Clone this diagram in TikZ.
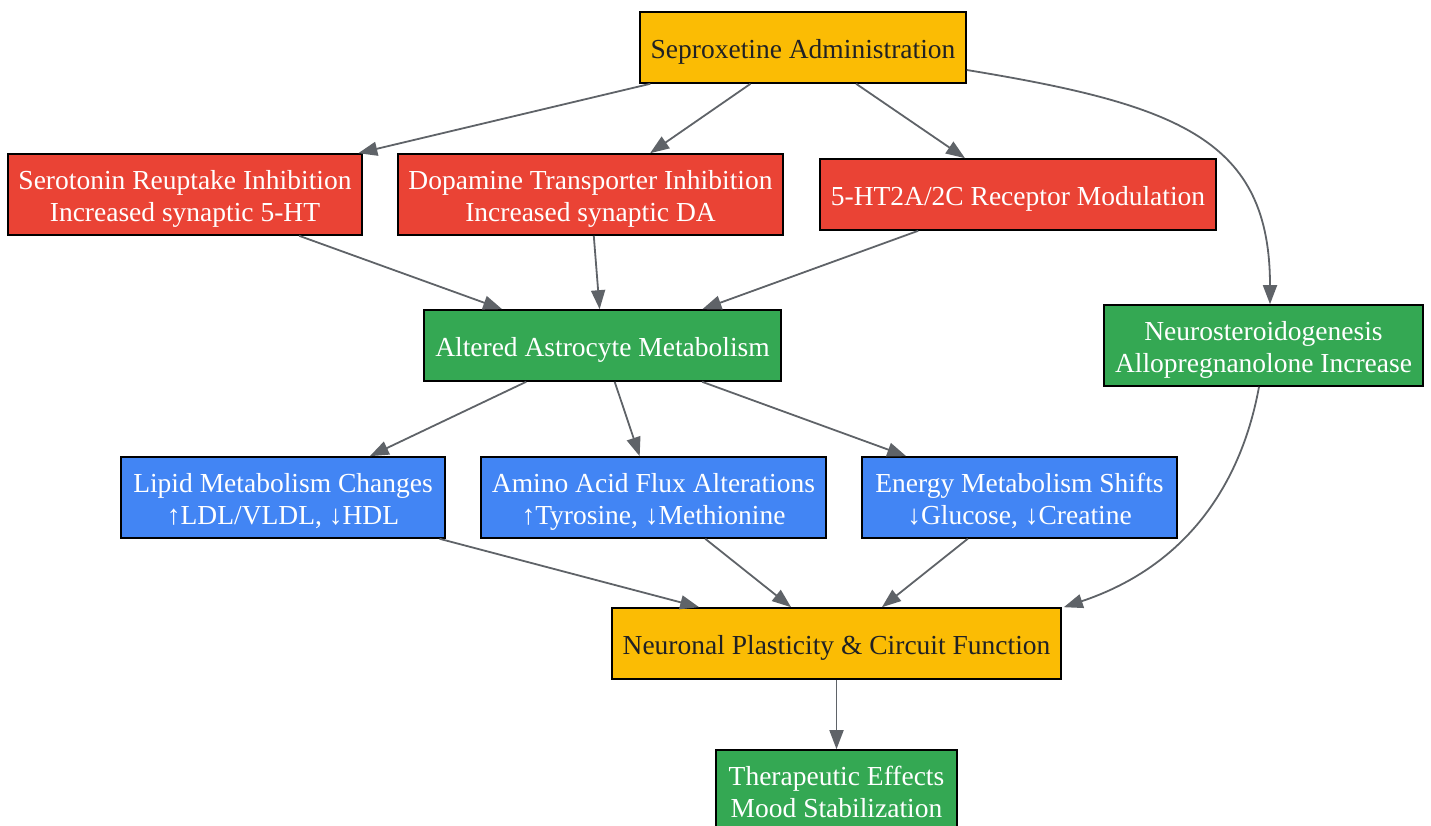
\documentclass[tikz,border=0pt]{standalone}
\usepackage{fontspec}
\setmainfont{Liberation Serif}
\usetikzlibrary{arrows.meta,calc}
\definecolor{gyellow}{HTML}{FBBC04}
\definecolor{gred}{HTML}{EA4335}
\definecolor{ggreen}{HTML}{34A853}
\definecolor{gblue}{HTML}{4285F4}
\definecolor{gdark}{HTML}{202124}
\definecolor{gedge}{HTML}{5F6368}
\newcommand{\lbl}[1]{\raisebox{-4.5pt}[\height][\depth]{\begin{tabular}{@{}c@{}}#1\end{tabular}}}
\tikzset{
  box/.style={draw=black, line width=1.6pt, inner sep=0pt, align=center,
    font=\fontsize{27.5}{32}\selectfont},
  ybox/.style={box, fill=gyellow, text=gdark},
  rbox/.style={box, fill=gred, text=white},
  gbox/.style={box, fill=ggreen, text=white},
  bbox/.style={box, fill=gblue, text=white},
  edge/.style={draw=gedge, line width=1.8pt, -{Triangle[length=19pt,width=14pt]}}
}
\begin{document}
\begin{tikzpicture}[x=1pt,y=-1pt]
\useasboundingbox (0,0) rectangle (1431,826);
\node[ybox, minimum width=326pt, minimum height=71pt] (sep) at (803,47.5) {\lbl{Seproxetine Administration}};
\node[rbox, minimum width=354pt, minimum height=81pt] (ser) at (185,194.5) {\lbl{Serotonin Reuptake Inhibition\\Increased synaptic 5-HT}};
\node[rbox, minimum width=385pt, minimum height=81pt] (dop) at (590.5,194.5) {\lbl{Dopamine Transporter Inhibition\\Increased synaptic DA}};
\node[rbox, minimum width=396pt, minimum height=71pt] (ht) at (1018,194.5) {\lbl{5-HT2A/2C Receptor Modulation}};
\node[gbox, minimum width=357pt, minimum height=71pt] (ast) at (602.5,345.5) {\lbl{Altered Astrocyte Metabolism}};
\node[gbox, minimum width=319pt, minimum height=81pt] (neu) at (1263.5,345.5) {\lbl{Neurosteroidogenesis\\Allopregnanolone Increase}};
\node[bbox, minimum width=324pt, minimum height=81pt] (lip) at (283,497.5) {\lbl{Lipid Metabolism Changes\\↑LDL/VLDL, ↓HDL}};
\node[bbox, minimum width=345pt, minimum height=81pt] (ami) at (653.5,497.5) {\lbl{Amino Acid Flux Alterations\\↑Tyrosine, ↓Methionine}};
\node[bbox, minimum width=315pt, minimum height=81pt] (ene) at (1019.5,497.5) {\lbl{Energy Metabolism Shifts\\↓Glucose, ↓Creatine}};
\node[ybox, minimum width=449pt, minimum height=71pt] (pla) at (836.5,643.5) {\lbl{Neuronal Plasticity \& Circuit Function}};
\node[gbox, minimum width=241pt, minimum height=81pt] (the) at (836.5,790.5) {\lbl{Therapeutic Effects\\Mood Stabilization}};

\draw[edge] (sep) -- (ser);
\draw[edge] (sep) -- (dop);
\draw[edge] (sep) -- (ht);
\draw[edge] ($(sep.east)+(0,22.5)$) .. controls (1180,105) and (1270,140) .. (neu.north -| 1270,0);
\draw[edge] (ser) -- (ast);
\draw[edge] (dop) -- (ast);
\draw[edge] (ht) -- (ast);
\draw[edge] (ast) -- (lip);
\draw[edge] (ast) -- (ami);
\draw[edge] (ast) -- (ene);
\draw[edge] (lip) -- (pla);
\draw[edge] (ami) -- (pla);
\draw[edge] (ene) -- (pla);
\draw[edge] (neu.south -| 1259,0) .. controls (1242,480) and (1190,565) .. ($(pla.north east)+(2,0)$);
\draw[edge] (pla) -- (the);
\end{tikzpicture}
\end{document}
